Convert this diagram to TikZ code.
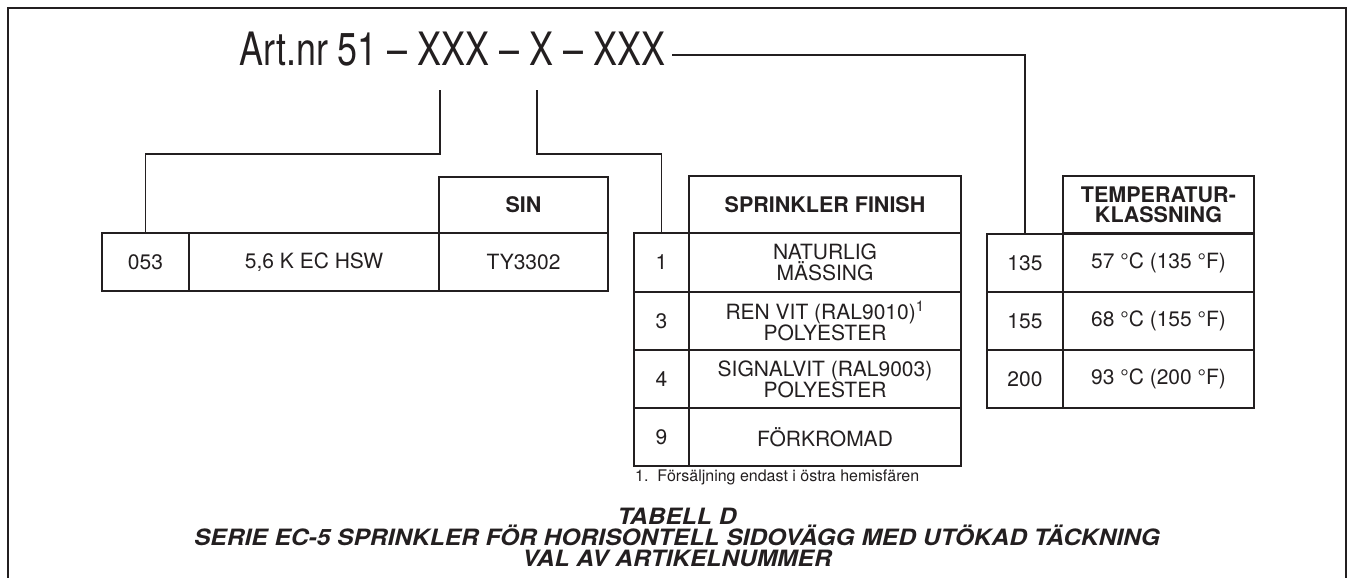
\documentclass[tikz,border=0pt]{standalone}
\usepackage{fontspec}
\setmainfont{TeX Gyre Heros}
\newfontfamily\captionfont[FakeStretch=1.09]{TeX Gyre Heros}
\usepackage{graphicx}
\definecolor{ink}{HTML}{231F20}
\tikzset{
  cell/.style={draw=ink, line width=1.6pt, inner sep=0pt, align=center, text=ink,
    font=\fontsize{21}{21}\selectfont},
  head/.style={cell, font=\fontsize{21.5}{20}\selectfont\bfseries},
  link/.style={draw=ink, line width=1.3pt},
}
\begin{document}
\begin{tikzpicture}[x=1pt,y=-1pt]
    \useasboundingbox (0,0) rectangle (1349,578);
    \draw[ink, line width=2pt] (8,578) -- (8,8) -- (1346,8) -- (1346,578);

    \node[anchor=base west, inner sep=0pt, text=ink, font=\fontsize{46}{46}\selectfont] (title) at (239,66)
      {\scalebox{0.78}[1]{Art.nr 51 – XXX – X – XXX}};

    \node[head, minimum width=169pt, minimum height=56pt] (sin) at (523.5,205) {SIN};
    \node[cell, minimum width=87pt, minimum height=58pt] (k053) at (145.5,262) {053};
    \node[cell, minimum width=250pt, minimum height=58pt] (kname) at (314,262) {5,6 K EC HSW};
    \node[cell, minimum width=169pt, minimum height=58pt] (ksin) at (523.5,262) {TY3302};

    \node[head, minimum width=272pt, minimum height=57pt] (finish) at (825,204.5) {SPRINKLER FINISH};
    \node[cell, minimum width=55pt, minimum height=59pt] (f1) at (661.5,262.5) {1};
    \node[cell, minimum width=272pt, minimum height=59pt] (f1t) at (825,262.5) {NATURLIG\\MÄSSING};
    \node[cell, minimum width=55pt, minimum height=58pt] (f3) at (661.5,321) {3};
    \node[cell, minimum width=272pt, minimum height=58pt] (f3t) at (825,321) {REN VIT (RAL9010)\textsuperscript{1}\\POLYESTER};
    \node[cell, minimum width=55pt, minimum height=58pt] (f4) at (661.5,379) {4};
    \node[cell, minimum width=272pt, minimum height=58pt] (f4t) at (825,379) {SIGNALVIT (RAL9003)\\POLYESTER};
    \node[cell, minimum width=55pt, minimum height=58pt] (f9) at (661.5,437) {9};
    \node[cell, minimum width=272pt, minimum height=58pt] (f9t) at (825,437) {FÖRKROMAD};
    \node[anchor=west, inner sep=0pt, text=ink, font=\fontsize{16}{16}\selectfont] (note) at (635,477)
      {1.\ \ Försäljning endast i östra hemisfären};

    \node[head, minimum width=191pt, minimum height=57pt] (temp) at (1158.5,204.5) {TEMPERATUR-\\KLASSNING};
    \node[cell, minimum width=76pt, minimum height=58pt] (t135) at (1025,263) {135};
    \node[cell, minimum width=191pt, minimum height=58pt] (t135t) at (1158.5,263) {57 °C (135 °F)};
    \node[cell, minimum width=76pt, minimum height=58pt] (t155) at (1025,321) {155};
    \node[cell, minimum width=191pt, minimum height=58pt] (t155t) at (1158.5,321) {68 °C (155 °F)};
    \node[cell, minimum width=76pt, minimum height=58pt] (t200) at (1025,379) {200};
    \node[cell, minimum width=191pt, minimum height=58pt] (t200t) at (1158.5,379) {93 °C (200 °F)};

    \coordinate (kp) at (440,90);
    \coordinate (fp) at (537,90);
    \coordinate (tp) at (672,55);
    \draw[link] (kp) -- ++(0,64) -| (k053.north);
    \draw[link] (fp) -- ++(0,64) -| (f1.north);
    \draw[link] (tp) -| (t135.north);

    \node[align=center, inner sep=0pt, text=ink, font=\captionfont\fontsize{22.5}{20.5}\selectfont\bfseries\itshape] (capt) at (677,537)
      {TABELL D\\SERIE EC-5 SPRINKLER FÖR HORISONTELL SIDOVÄGG MED UTÖKAD TÄCKNING\\VAL AV ARTIKELNUMMER};
\end{tikzpicture}
\end{document}
